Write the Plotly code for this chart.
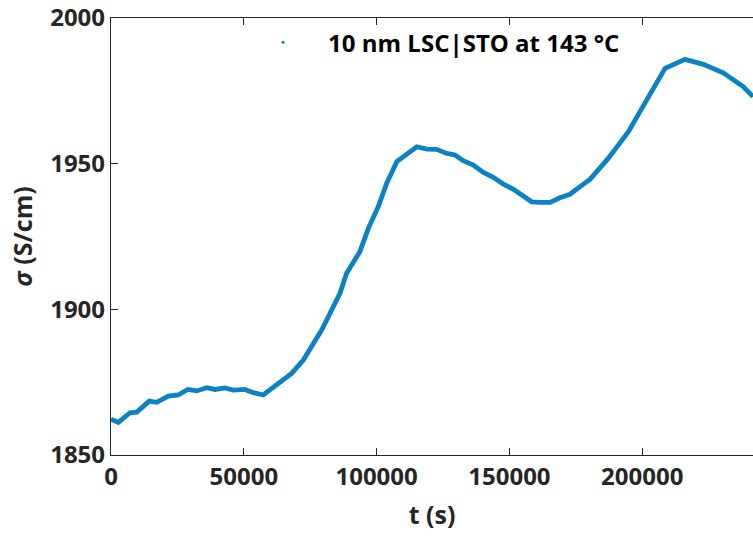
import plotly.graph_objects as go

t_s = [0, 2750, 7150, 9700, 14400, 17200, 21600, 25300, 28900, 32300, 36000, 39200,
       42900, 46000, 50400, 53600, 57300, 64300, 68000, 72400, 75600, 79300, 81200,
       86200, 88700, 93700, 96900, 100600, 103800, 107600, 115100, 118900, 122600,
       126400, 129500, 132600, 136400, 140200, 143900, 147700, 151500, 155200, 158400,
       161500, 165300, 169000, 172800, 176600, 180300, 187200, 194800, 201700, 208600,
       216100, 223000, 230500, 238100, 241700]
sigma = [1862.3, 1861.2, 1864.5, 1864.7, 1868.5, 1868.1, 1870.2, 1870.6, 1872.5, 1872.0,
         1873.1, 1872.5, 1873.0, 1872.3, 1872.5, 1871.4, 1870.6, 1875.2, 1878.0, 1882.6,
         1887.1, 1892.9, 1896.3, 1905.5, 1912.4, 1919.8, 1927.8, 1935.2, 1943.3, 1950.7,
         1955.8, 1955.0, 1954.9, 1953.5, 1953.0, 1951.0, 1949.5, 1947.0, 1945.3, 1943.0,
         1941.2, 1938.7, 1936.9, 1936.7, 1936.7, 1938.3, 1939.5, 1942.1, 1944.6, 1951.8,
         1961.0, 1971.9, 1982.7, 1985.8, 1984.1, 1981.2, 1976.4, 1973.0]
series_name = "10 nm LSC|STO at 143 °C"
x_ticks = [0, 50000, 100000, 150000, 200000]
y_ticks = [1850, 1900, 1950, 2000]

blue = "#0A82C4"
axis_col = "#262626"
font_fam = "Open Sans"

fig = go.Figure()
fig.add_trace(go.Scatter(x=t_s, y=sigma, mode="lines",
                         line=dict(color=blue, width=4.8), showlegend=False))
fig.add_trace(go.Scatter(x=[None], y=[None], mode="markers", name=series_name,
                         marker=dict(color=blue, size=3)))

fig.update_layout(
    width=753, height=536,
    margin=dict(l=111, r=0, t=18, b=81),
    plot_bgcolor="white", paper_bgcolor="white",
    font=dict(family=font_fam, color=axis_col),
    legend=dict(x=0.198, y=0.995, xanchor="left", yanchor="top",
                bgcolor="rgba(0,0,0,0)", itemwidth=80,
                font=dict(family=font_fam, size=24, color="black", weight="bold")),
    xaxis=dict(range=[0, 241700], tickvals=x_ticks, ticktext=[str(v) for v in x_ticks],
               ticks="inside", ticklen=7, tickcolor=axis_col, tickwidth=1.2,
               showline=True, linecolor=axis_col, linewidth=1.3, mirror="ticks",
               showgrid=False, zeroline=False,
               tickfont=dict(family=font_fam, size=24, color=axis_col, weight="bold"),
               title=dict(text="t (s)", standoff=15,
                          font=dict(family=font_fam, size=25, color=axis_col, weight="bold"))),
    yaxis=dict(range=[1850, 2000], tickvals=y_ticks,
               ticks="inside", ticklen=7, tickcolor=axis_col, tickwidth=1.2,
               showline=True, linecolor=axis_col, linewidth=1.3,
               showgrid=False, zeroline=False,
               tickfont=dict(family=font_fam, size=24, color=axis_col, weight="bold"),
               title=dict(text="<i>σ</i> (S/cm)", standoff=10,
                          font=dict(family=font_fam, size=25, color=axis_col, weight="bold"))),
)

fig.write_html("out.html")
